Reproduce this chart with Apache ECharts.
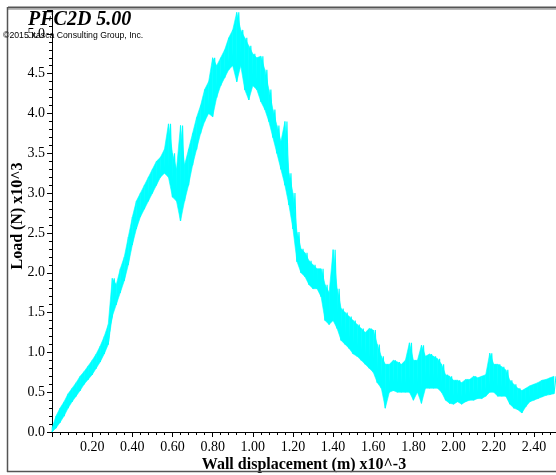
<!DOCTYPE html>
<html>
<head>
<meta charset="utf-8">
<script src="https://cdn.jsdelivr.net/npm/echarts@6/dist/echarts.min.js"></script>
<style>
  html, body { margin: 0; padding: 0; background: #ffffff; }
  #chart { width: 556px; height: 475px; }
</style>
</head>
<body>
<div id="chart"></div>
<script>
// Wall displacement grid (x10^-3 m): samples every dispStep starting at 0
const dispStep = 0.02;

// Load (x10^3 N) band: lower and upper extent of the noisy trace at each sample
const loadLower = [
  0.00, 0.05, 0.12, 0.20, 0.30, 0.38, 0.45, 0.52, 0.60, 0.66,
  0.72, 0.80, 0.88, 0.98, 1.10, 1.45, 1.60, 1.75, 1.90, 2.10,
  2.35, 2.55, 2.70, 2.80, 2.90, 3.00, 3.10, 3.20, 3.25, 3.20,
  2.95, 2.90, 2.65, 2.90, 3.10, 3.35, 3.55, 3.75, 3.90, 4.00,
  3.96, 4.20, 4.35, 4.45, 4.55, 4.60, 4.40, 4.60, 4.30, 4.17,
  4.35, 4.30, 4.15, 4.05, 3.90, 3.70, 3.50, 3.30, 3.10, 2.85,
  2.55, 2.14, 2.00, 1.95, 1.85, 1.80, 1.80, 1.70, 1.40, 1.35,
  1.40, 1.30, 1.15, 1.10, 1.05, 0.98, 0.95, 0.90, 0.85, 0.80,
  0.75, 0.62, 0.55, 0.30, 0.50, 0.52, 0.50, 0.50, 0.50, 0.50,
  0.40, 0.50, 0.36, 0.55, 0.55, 0.55, 0.55, 0.50, 0.40, 0.36,
  0.35, 0.38, 0.35, 0.38, 0.40, 0.40, 0.42, 0.42, 0.45, 0.50,
  0.50, 0.45, 0.45, 0.45, 0.35, 0.30, 0.28, 0.24, 0.32, 0.38,
  0.40, 0.42, 0.44, 0.46, 0.47, 0.48
];
const loadUpper = [
  0.05, 0.20, 0.30, 0.38, 0.48, 0.55, 0.62, 0.70, 0.76, 0.83,
  0.90, 0.98, 1.08, 1.20, 1.35, 1.93, 1.85, 2.05, 2.20, 2.45,
  2.70, 2.90, 3.00, 3.10, 3.20, 3.30, 3.40, 3.45, 3.55, 3.87,
  3.50, 3.30, 3.85, 3.35, 3.55, 3.75, 3.95, 4.10, 4.30, 4.40,
  4.70, 4.60, 4.70, 4.80, 4.95, 5.05, 5.27, 5.05, 4.95, 4.85,
  4.75, 4.70, 4.72, 4.55, 4.30, 4.05, 3.85, 3.65, 3.90, 3.25,
  3.00, 2.51, 2.30, 2.25, 2.15, 2.10, 2.05, 2.05, 1.85, 1.75,
  2.29, 1.80, 1.55, 1.50, 1.45, 1.40, 1.35, 1.30, 1.25, 1.30,
  1.28, 1.10, 0.95, 0.85, 0.85, 0.90, 0.88, 0.85, 0.90, 1.12,
  0.90, 0.90, 1.09, 0.95, 0.98, 0.95, 0.92, 0.85, 0.72, 0.70,
  0.65, 0.65, 0.62, 0.66, 0.66, 0.70, 0.68, 0.70, 0.72, 0.99,
  0.85, 0.85, 0.82, 0.78, 0.65, 0.60, 0.55, 0.52, 0.55, 0.58,
  0.60, 0.62, 0.65, 0.66, 0.68, 0.70
];

// Axis ranges and tick spacing
const xMax = 2.51, xStep = 0.2;
const yMax = 5.3, yStep = 0.5;

// Envelope rows: [displacement, lower load, upper load]
const envelope = loadLower.map((lo, i) => [i * dispStep, lo, loadUpper[i]]);

// The trace swings between the lower and upper extent at half-step offsets
const trace = [];
loadLower.forEach((lo, i) => {
  const x = i * dispStep;
  trace.push([x, lo]);
  trace.push([x + dispStep / 2, loadUpper[i]]);
});

const serif = '"Liberation Serif", "DejaVu Serif", serif';
const onStep = (v, step) => Math.abs(v / step - Math.round(v / step)) < 1e-6;
const cyan = '#00ffff';

// Filled band between the lower and upper extents, one quad per sample interval
function renderBand(params, api) {
  const i = params.dataIndex;
  if (i >= envelope.length - 1) return null;
  const a = envelope[i], b = envelope[i + 1];
  const pts = [
    api.coord([a[0], a[1]]), api.coord([a[0], a[2]]),
    api.coord([b[0], b[2]]), api.coord([b[0], b[1]])
  ];
  return {
    type: 'polygon',
    shape: { points: pts },
    style: { fill: cyan, stroke: cyan, lineWidth: 0.6 }
  };
}

const chart = echarts.init(document.getElementById('chart'), null, { renderer: 'canvas' });
chart.setOption({
  animation: false,
  backgroundColor: '#ffffff',
  grid: { left: 52, right: 0, top: 10, bottom: 43, containLabel: false, outerBoundsMode: 'none' },
  xAxis: {
    type: 'value', min: 0, max: xMax, interval: xStep,
    name: 'Wall displacement (m) x10^-3',
    nameLocation: 'middle', nameGap: 25, nameMoveOverlap: false,
    nameTextStyle: { fontFamily: serif, fontWeight: 'bold', fontSize: 16, color: '#000' },
    axisLine: { show: true, lineStyle: { color: '#000', width: 1 } },
    axisTick: { show: true, length: 5, lineStyle: { color: '#000' } },
    minorTick: { show: true, splitNumber: 5, length: 3, lineStyle: { color: '#000' } },
    splitLine: { show: false },
    axisLabel: {
      showMaxLabel: false, margin: 8,
      fontFamily: serif, fontSize: 14, color: '#000',
      formatter: v => (v > 0 && onStep(v, xStep)) ? v.toFixed(2) : ''
    }
  },
  yAxis: {
    type: 'value', min: 0, max: yMax, interval: yStep,
    name: 'Load (N) x10^3',
    nameLocation: 'middle', nameGap: 26, nameRotate: 90, nameMoveOverlap: false,
    nameTextStyle: { fontFamily: serif, fontWeight: 'bold', fontSize: 16, color: '#000', padding: [0, 0, 0, 10] },
    axisLine: { show: true, lineStyle: { color: '#000', width: 1 } },
    axisTick: { show: true, length: 5, lineStyle: { color: '#000' } },
    minorTick: { show: true, splitNumber: 5, length: 3, lineStyle: { color: '#000' } },
    splitLine: { show: false },
    axisLabel: {
      showMaxLabel: false, margin: 7,
      fontFamily: serif, fontSize: 14, color: '#000',
      formatter: v => onStep(v, yStep) ? v.toFixed(1) : ''
    }
  },
  series: [
    {
      type: 'custom', data: envelope, renderItem: renderBand,
      encode: { x: 0, y: [1, 2] }, silent: true, z: 2
    },
    {
      type: 'line', data: trace,
      symbol: 'none',
      lineStyle: { color: cyan, width: 1.2 },
      z: 3
    }
  ],
  graphic: [
    // page frame
    { type: 'line', shape: { x1: 8, y1: 7.5, x2: 556, y2: 7.5 }, style: { stroke: '#555', lineWidth: 2 }, z: 10 },
    { type: 'line', shape: { x1: 8, y1: 9.5, x2: 556, y2: 9.5 }, style: { stroke: '#bbb', lineWidth: 1 }, z: 10 },
    { type: 'line', shape: { x1: 7.5, y1: 7, x2: 7.5, y2: 472 }, style: { stroke: '#555', lineWidth: 1.5 }, z: 10 },
    { type: 'line', shape: { x1: 7, y1: 471.5, x2: 556, y2: 471.5 }, style: { stroke: '#555', lineWidth: 1.5 }, z: 10 },
    // title and credit
    { type: 'text', left: 28, top: 10, z: 20,
      style: { text: 'PFC2D 5.00', fontFamily: serif, fontStyle: 'italic', fontWeight: 'bold', fontSize: 20, fill: '#000' } },
    { type: 'text', left: 3, top: 31, z: 20,
      style: { text: '©2015 Itasca Consulting Group, Inc.', fontFamily: '"Liberation Sans", Arial, sans-serif', fontSize: 8.7, fill: '#000' } }
  ]
});
</script>
</body>
</html>
